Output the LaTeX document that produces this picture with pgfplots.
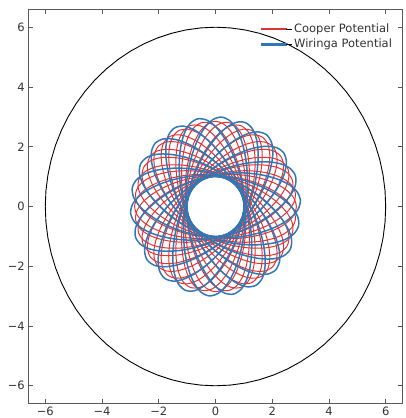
\documentclass[border=0pt]{standalone}
\usepackage{fontspec}
\setmainfont{DejaVu Sans}
\usepackage{pgfplots}
\pgfplotsset{compat=1.18}
\usepackage{pgfplotstable}
\definecolor{cooper}{HTML}{E03434}
\definecolor{wiringa}{HTML}{2F78B8}

% one radial loop of each orbit (pericentre -> apocentre -> pericentre), polar form: angle (deg), radius
\pgfplotstableread{
phi r
-105.882 1.00000
-100.000 1.00335
-94.118 1.01349
-88.235 1.03073
-82.353 1.05560
-76.471 1.08890
-70.588 1.13171
-64.706 1.18552
-58.824 1.25226
-52.941 1.33445
-47.059 1.43529
-41.176 1.55870
-35.294 1.70912
-29.412 1.89073
-23.529 2.10496
-17.647 2.34497
-11.765 2.58582
-5.882 2.77589
0.000 2.85000
5.882 2.77589
11.765 2.58582
17.647 2.34497
23.529 2.10496
29.412 1.89073
35.294 1.70912
41.176 1.55870
47.059 1.43529
52.941 1.33445
58.824 1.25226
64.706 1.18552
70.588 1.13171
76.471 1.08890
82.353 1.05560
88.235 1.03073
94.118 1.01349
100.000 1.00335
105.882 1.00000
}\cooperloop

\pgfplotstableread{
phi r
-105.882 1.00000
-100.000 1.00339
-94.118 1.01368
-88.235 1.03117
-82.353 1.05643
-76.471 1.09029
-70.588 1.13389
-64.706 1.18882
-58.824 1.25716
-52.941 1.34164
-47.059 1.44582
-41.176 1.57417
-35.294 1.73205
-29.412 1.92496
-23.529 2.15619
-17.647 2.42069
-11.765 2.69274
-5.882 2.91280
0.000 3.00000
5.882 2.91280
11.765 2.69274
17.647 2.42069
23.529 2.15619
29.412 1.92496
35.294 1.73205
41.176 1.57417
47.059 1.44582
52.941 1.34164
58.824 1.25716
64.706 1.18882
70.588 1.13389
76.471 1.09029
82.353 1.05643
88.235 1.03117
94.118 1.01368
100.000 1.00339
105.882 1.00000
}\wiringaloop

\pgfplotstableread{
phi r
0 6
5 6
10 6
15 6
20 6
25 6
30 6
35 6
40 6
45 6
50 6
55 6
60 6
65 6
70 6
75 6
80 6
85 6
90 6
95 6
100 6
105 6
110 6
115 6
120 6
125 6
130 6
135 6
140 6
145 6
150 6
155 6
160 6
165 6
170 6
175 6
180 6
185 6
190 6
195 6
200 6
205 6
210 6
215 6
220 6
225 6
230 6
235 6
240 6
245 6
250 6
255 6
260 6
265 6
270 6
275 6
280 6
285 6
290 6
295 6
300 6
305 6
310 6
315 6
320 6
325 6
330 6
335 6
340 6
345 6
350 6
355 6
360 6
}\boundary

\begin{document}
\begin{tikzpicture}
\begin{axis}[
  scale only axis,
  width=375bp, height=395bp,
  xmin=-6.6, xmax=6.6, ymin=-6.6, ymax=6.6,
  xtick={-6,-4,-2,0,2,4,6}, ytick={-6,-4,-2,0,2,4,6},
  xticklabels={−6,−4,−2,0,2,4,6},
  yticklabels={−6,−4,−2,0,2,4,6},
  tick align=inside, xtick pos=both, ytick pos=both,
  major tick length=4.5bp,
  minor tick num=0,
  axis line style={black!65, line width=1bp},
  tick style={black!65, line width=0.9bp},
  ticklabel style={font=\fontsize{11.5bp}{13bp}\selectfont, text=black!80},
  legend style={at={(0.985,1.0114)}, anchor=north east, draw=none, fill=none,
    font=\fontsize{11.5bp}{13bp}\selectfont, row sep=1bp},
  legend cell align=left,
]
\addlegendimage{empty legend}
\addlegendentry{\phantom{Cp}}
\addlegendimage{legend image code/.code={%
  \fill[cooper] (0bp,-0.45bp) rectangle (25bp,0.45bp);
  \path (25bp,0bp) -- (31bp,0bp);}}
\addlegendentry{\textcolor{black!80}{Cooper Potential}}
\addlegendimage{legend image code/.code={%
  \fill[wiringa] (0bp,-0.6bp) rectangle (25bp,0.6bp);
  \path (25bp,0bp) -- (31bp,0bp);}}
\addlegendentry{\textcolor{black!80}{Wiringa Potential}}

\pgfplotsinvokeforeach{0,...,39}{
  \addplot[color=cooper, line width=1bp, smooth, forget plot] table[
    x expr={\thisrow{r}*cos(\thisrow{phi}+#1*9)},
    y expr={\thisrow{r}*sin(\thisrow{phi}+#1*9)}]{\cooperloop};
}
\pgfplotsinvokeforeach{0,...,21}{
  \addplot[color=wiringa, line width=1.5bp, smooth, forget plot] table[
    x expr={\thisrow{r}*cos(\thisrow{phi}+#1*16.3636+4)},
    y expr={\thisrow{r}*sin(\thisrow{phi}+#1*16.3636+4)}]{\wiringaloop};
}
\addplot[black, line width=0.9bp, forget plot] table[
  x expr={\thisrow{r}*cos(\thisrow{phi})},
  y expr={\thisrow{r}*sin(\thisrow{phi})}]{\boundary};
\end{axis}
\pgfresetboundingbox
\path[use as bounding box] ([xshift=-28.3bp, yshift=-14.3bp]current axis.south west)
  rectangle ([xshift=2.7bp, yshift=9.3bp]current axis.north east);
\end{tikzpicture}
\end{document}
